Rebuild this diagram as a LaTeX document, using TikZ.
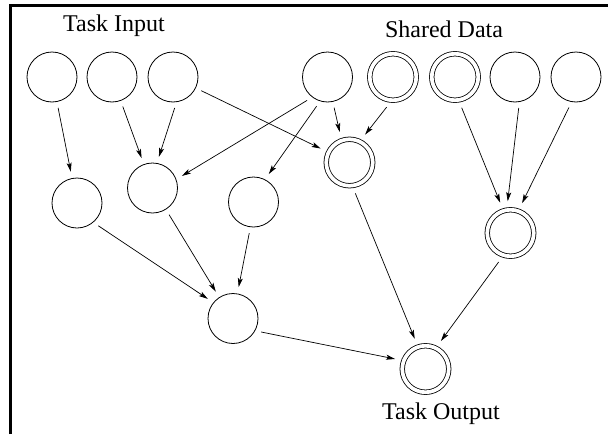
\documentclass[tikz,border=0pt]{standalone}
\usepackage{fontspec}
\setmainfont{Liberation Serif}
\usetikzlibrary{arrows.meta}

\tikzset{
  vert/.style={circle,draw,line width=0.8pt,minimum size=50pt,inner sep=0pt},
  dvert/.style={circle,draw,line width=0.8pt,double,double distance=3.7pt,
    minimum size=46.5pt,inner sep=0pt,outer sep=2.3pt},
  arr/.style={-{Stealth[length=9pt,width=5pt,inset=2pt]},line width=0.7pt,
    shorten <=6pt,shorten >=6.5pt},
  lbl/.style={font=\fontsize{24}{28}\selectfont,anchor=base}
}

\begin{document}
\begin{tikzpicture}[x=1pt,y=-1pt]
    \useasboundingbox (0,0) rectangle (608,434);
    % Moldura
    \draw[line width=3pt] (10,434) -- (10,5.5) -- (608,5.5);
    % Rotulos
    \node[lbl] (tin) at (114,31.7) {Task Input};
    \node[lbl] (sd) at (444,37.3) {Shared Data};
    \node[lbl] (tout) at (441,419) {Task Output};
    % Linha superior
    \foreach \n/\x in {a1/52, a2/112, a3/173, b1/327.5, b4/515, b5/576}
        \node[vert] (\n) at (\x,77) {};
    \foreach \n/\x in {b2/393, b3/455}
        \node[dvert] (\n) at (\x,77) {};
    % Nivel intermediario
    \node[vert] (c1) at (77,203) {};
    \node[vert] (c2) at (152.5,188) {};
    \node[vert] (c3) at (253.5,202) {};
    \node[dvert] (d1) at (349.5,162.5) {};
    \node[dvert] (d2) at (510.5,233) {};
    % Nivel inferior
    \node[vert] (e) at (233,318.5) {};
    \node[dvert] (f) at (425.5,369) {};
    % Arestas
    \foreach \s/\t in {a1/c1, a2/c2, a3.-82/c2.80, a3/d1,
        b1.233/c2.20, b1.253/c3.63, b1.-78/d1.109, b2.-96/d1.63,
        b3.-80/d2.108, b4.-80/d2.98, b5.-100/d2.70,
        c1.-50/e.141, c2.-58/e.123, c3.-97/e.80,
        e.-29/f.160, d1.-82/f.109, d2.-109/f.63}
        \draw[arr] (\s) -- (\t);
\end{tikzpicture}
\end{document}
